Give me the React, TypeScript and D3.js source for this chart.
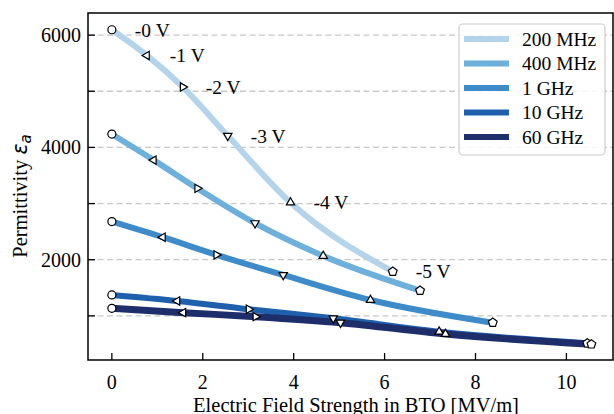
import React from "react";
import * as d3 from "d3";

const seriesNames = ["200 MHz", "400 MHz", "1 GHz", "10 GHz", "60 GHz"];
const seriesColors = ["#b4d4ec", "#6db0db", "#3d8bc8", "#1f60ad", "#1d2e6b"];
const voltageLabels = ["-0 V", "-1 V", "-2 V", "-3 V", "-4 V", "-5 V"];
const markerKinds = ["circle", "left", "right", "down", "up", "pentagon"];

const field200 = [0, 0.77, 1.56, 2.55, 3.93, 6.18];
const perm200 = [6096, 5638, 5075, 4207, 3018, 1788];
const field400 = [0, 0.92, 1.88, 3.15, 4.65, 6.78];
const perm400 = [4237, 3774, 3271, 2651, 2068, 1450];
const field1G = [0, 1.12, 2.3, 3.77, 5.69, 8.38];
const perm1G = [2679, 2401, 2086, 1729, 1283, 879];
const field10G = [0, 1.44, 3.01, 4.87, 7.2, 10.46];
const perm10G = [1373, 1266, 1118, 957, 718, 512];
const field60G = [0, 1.57, 3.16, 5.03, 7.34, 10.55];
const perm60G = [1135, 1057, 986, 879, 677, 494];

const fields = [field200, field400, field1G, field10G, field60G];
const perms = [perm200, perm400, perm1G, perm10G, perm60G];

const xTicks = [0, 2, 4, 6, 8, 10];
const yMajor = [2000, 4000, 6000];
const yGrid = [1000, 2000, 3000, 4000, 5000, 6000];

const W = 614;
const H = 414;
const L = 88, R = 613, T = 13, B = 360;
const FONT = "'Liberation Serif', 'DejaVu Serif', serif";

function polygonPath(n: number, r: number, rot: number) {
  const pts: string[] = [];
  for (let i = 0; i < n; i++) {
    const a = rot + (i * 2 * Math.PI) / n;
    pts.push(`${(r * Math.cos(a)).toFixed(2)},${(r * Math.sin(a)).toFixed(2)}`);
  }
  return "M" + pts.join("L") + "Z";
}

function Marker({ kind, x, y }: { kind: string; x: number; y: number }) {
  const st = { fill: "#fff", stroke: "#000", strokeWidth: 1.2 };
  if (kind === "circle") return <circle cx={x} cy={y} r={4} {...st} />;
  const r = 4.8;
  let d = "";
  if (kind === "up") d = polygonPath(3, r, -Math.PI / 2);
  else if (kind === "down") d = polygonPath(3, r, Math.PI / 2);
  else if (kind === "left") d = polygonPath(3, r, Math.PI);
  else if (kind === "right") d = polygonPath(3, r, 0);
  else d = polygonPath(5, 4.6, -Math.PI / 2);
  return <path d={d} transform={`translate(${x},${y})`} {...st} />;
}

export default function App() {
  const x = d3.scaleLinear().domain([-0.525, 11.025]).range([L, R]);
  const y = d3.scaleLinear().domain([214, 6394]).range([B, T]);
  const line = d3
    .line<[number, number]>()
    .x((d) => x(d[0]))
    .y((d) => y(d[1]))
    .curve(d3.curveMonotoneX);

  const data = fields.map((f, i) => f.map((v, j) => [v, perms[i][j]] as [number, number]));

  return (
    <svg
      width={W}
      height={H}
      style={{ position: "fixed", left: 0, top: 0, background: "#fff" }}
      fontFamily={FONT}
    >
      <rect x={0} y={0} width={W} height={H} fill="#fff" />
      {yGrid.map((v) => (
        <line
          key={v}
          x1={L}
          x2={R}
          y1={y(v)}
          y2={y(v)}
          stroke="#c8c8c8"
          strokeWidth={1.3}
          strokeDasharray="6,3.5"
        />
      ))}
      {data.map((d, i) => (
        <path
          key={i}
          d={line(d) || ""}
          fill="none"
          stroke={seriesColors[i]}
          strokeWidth={i === 4 ? 7 : 6}
        />
      ))}
      {data.map((d, i) =>
        d.map((p, j) => <Marker key={`${i}-${j}`} kind={markerKinds[j]} x={x(p[0])} y={y(p[1])} />)
      )}
      {voltageLabels.map((t, j) => (
        <text
          key={t}
          x={x(data[0][j][0]) + 23}
          y={y(data[0][j][1])}
          dy="0.35em"
          fontSize={19.5}
          fill="#000"
        >
          {t}
        </text>
      ))}
      {/* frame */}
      <rect x={L} y={T} width={R - L} height={B - T} fill="none" stroke="#000" strokeWidth={1.5} />
      {xTicks.map((v) => (
        <g key={v}>
          <line x1={x(v)} x2={x(v)} y1={B} y2={B - 7} stroke="#000" strokeWidth={1.3} />
          <text x={x(v)} y={B + 29} textAnchor="middle" fontSize={20}>
            {v}
          </text>
        </g>
      ))}
      {yGrid.map((v) => (
        <line key={v} x1={L} x2={L + 7} y1={y(v)} y2={y(v)} stroke="#000" strokeWidth={1.3} />
      ))}
      {yMajor.map((v) => (
        <text key={v} x={L - 7} y={y(v)} dy="0.35em" textAnchor="end" fontSize={20}>
          {v}
        </text>
      ))}
      <text x={356} y={411.5} textAnchor="middle" fontSize={20.5}>
        Electric Field Strength in BTO [MV/m]
      </text>
      <text transform={`translate(27,196) rotate(-90)`} textAnchor="middle" fontSize={20.5}>
        Permittivity{" "}
        <tspan fontFamily="'DejaVu Sans', sans-serif" fontStyle="italic">
          ε
        </tspan>
        <tspan fontFamily="'DejaVu Sans', sans-serif" fontStyle="italic" fontSize={15} dy={4}>
          a
        </tspan>
      </text>
      {/* legend */}
      <rect x={459} y={24} width={146} height={131} rx={4} fill="#fff" fillOpacity={0.85} stroke="#ccc" strokeWidth={1.2} />
      {seriesNames.map((n, i) => (
        <g key={n}>
          <line x1={464} x2={509} y1={39 + i * 24.5} y2={39 + i * 24.5} stroke={seriesColors[i]} strokeWidth={6} />
          <text x={522} y={39 + i * 24.5} dy="0.35em" fontSize={19.5}>
            {n}
          </text>
        </g>
      ))}
    </svg>
  );
}
